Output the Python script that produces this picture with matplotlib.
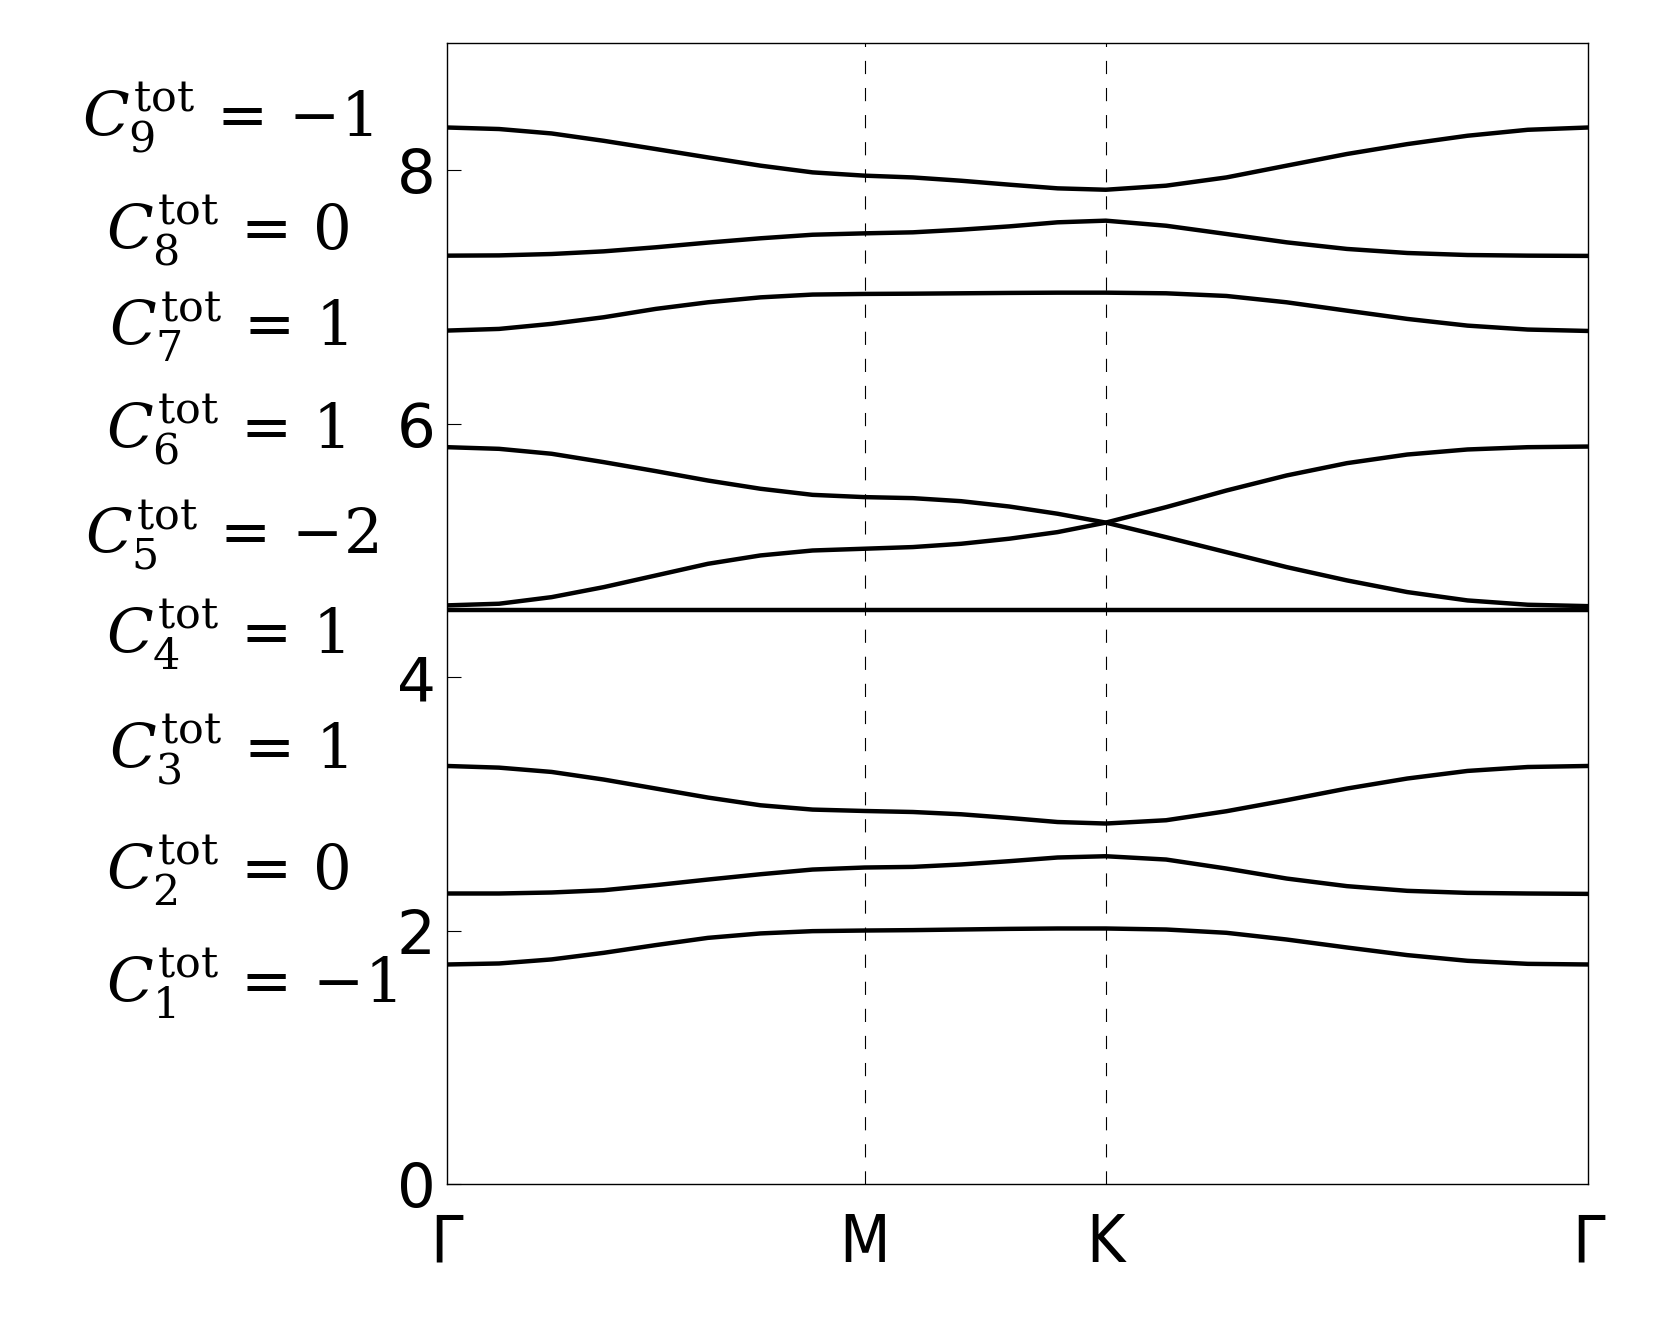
"""
Band structure along Gamma-M-K-Gamma with the total Chern number of each band.
"""

import matplotlib
matplotlib.use("Agg")
import matplotlib.pyplot as plt
from matplotlib.transforms import blended_transform_factory

plt.rcParams['mathtext.fontset'] = 'dejavuserif'
plt.rcParams['lines.scale_dashes'] = False

# k-path coordinate (Gamma=0, M=0.866, K=1.366, Gamma=2.366)
k_path = [0.0, 0.108, 0.217, 0.325, 0.433, 0.541, 0.650, 0.758, 0.866,
          0.966, 1.066, 1.166, 1.266, 1.366,
          1.491, 1.616, 1.741, 1.866, 1.991, 2.116, 2.241, 2.366]
k_ticks = [0.0, 0.866, 1.366, 2.366]
k_labels = ["Γ", "M", "K", "Γ"]

band_1 = [1.734, 1.742, 1.774, 1.826, 1.887, 1.944, 1.979, 1.997, 2.002,
          2.005, 2.010, 2.015, 2.018, 2.018,
          2.010, 1.984, 1.931, 1.868, 1.808, 1.763, 1.739, 1.734]
band_2 = [2.294, 2.294, 2.302, 2.320, 2.360, 2.404, 2.446, 2.483, 2.499,
          2.504, 2.523, 2.549, 2.578, 2.588,
          2.562, 2.491, 2.412, 2.352, 2.315, 2.299, 2.294, 2.291]
band_3 = [3.300, 3.287, 3.253, 3.193, 3.122, 3.051, 2.990, 2.956, 2.945,
          2.937, 2.919, 2.890, 2.858, 2.846,
          2.872, 2.943, 3.030, 3.122, 3.201, 3.261, 3.292, 3.300]
band_4 = [4.53, 4.53, 4.53, 4.53, 4.53, 4.53, 4.53, 4.53, 4.53,
          4.53, 4.53, 4.53, 4.53, 4.53,
          4.53, 4.53, 4.53, 4.53, 4.53, 4.53, 4.53, 4.53]
band_5 = [4.567, 4.580, 4.632, 4.711, 4.803, 4.895, 4.961, 5.000, 5.014,
          5.027, 5.053, 5.093, 5.145, 5.220,
          5.105, 4.987, 4.869, 4.764, 4.672, 4.606, 4.572, 4.561]
band_6 = [5.815, 5.802, 5.763, 5.697, 5.626, 5.552, 5.487, 5.439, 5.421,
          5.413, 5.389, 5.347, 5.290, 5.220,
          5.342, 5.473, 5.592, 5.689, 5.757, 5.797, 5.815, 5.820]
band_7 = [6.735, 6.748, 6.788, 6.840, 6.906, 6.958, 6.997, 7.019, 7.024,
          7.026, 7.029, 7.032, 7.034, 7.034,
          7.029, 7.008, 6.958, 6.892, 6.827, 6.774, 6.743, 6.732]
band_8 = [7.326, 7.328, 7.339, 7.360, 7.392, 7.429, 7.463, 7.491, 7.502,
          7.510, 7.531, 7.557, 7.589, 7.602,
          7.562, 7.497, 7.431, 7.379, 7.347, 7.331, 7.326, 7.324]
band_9 = [8.337, 8.325, 8.290, 8.232, 8.167, 8.101, 8.036, 7.983, 7.957,
          7.943, 7.917, 7.886, 7.857, 7.846,
          7.878, 7.943, 8.036, 8.128, 8.206, 8.272, 8.319, 8.337]
bands = [band_1, band_2, band_3, band_4, band_5, band_6, band_7, band_8, band_9]

chern_numbers = [-1, 0, 1, 1, -2, 1, 1, 0, -1]

# label placement (figure x of left edge, data y of centre)
label_x = [0.0638, 0.0638, 0.0657, 0.0638, 0.0510, 0.0638, 0.0657, 0.0638, 0.0491]
label_y = [1.58, 2.47, 3.43, 4.33, 5.12, 5.95, 6.76, 7.52, 8.41]

fig = plt.figure(figsize=(16.61, 13.25), dpi=100)
ax = fig.add_axes([0.2691, 0.1062, 0.6870, 0.8610])

for band in bands:
    ax.plot(k_path, band, color="black", lw=3.2, solid_joinstyle="round",
            solid_capstyle="butt", zorder=3)

for k in k_ticks[1:-1]:
    ax.axvline(k, color="black", lw=0.8, linestyle=(0, (9.5, 10)), zorder=2)

ax.set_xlim(k_ticks[0], k_ticks[-1])
ax.set_ylim(0, 9)

ax.set_xticks(k_ticks)
ax.set_xticklabels(k_labels, fontsize=47, fontstretch="condensed")
ax.set_yticks([0, 2, 4, 6, 8])
ax.set_yticklabels(["0", "2", "4", "6", "8"], fontsize=44)
ax.tick_params(axis="x", direction="in", length=0, pad=20)
ax.tick_params(axis="y", direction="in", length=10, width=0.8, pad=8)

for side in ["left", "bottom", "right", "top"]:
    ax.spines[side].set_linewidth(1.0)

trans = blended_transform_factory(fig.transFigure, ax.transData)
for n, (c, x, y) in enumerate(zip(chern_numbers, label_x, label_y), start=1):
    ax.text(x, y, r"$C_{%d}^{\rm tot}\,=\,{%d}$" % (n, c), transform=trans,
            fontsize=44, ha="left", va="center", clip_on=False)

fig.savefig("out.png", dpi=100)
